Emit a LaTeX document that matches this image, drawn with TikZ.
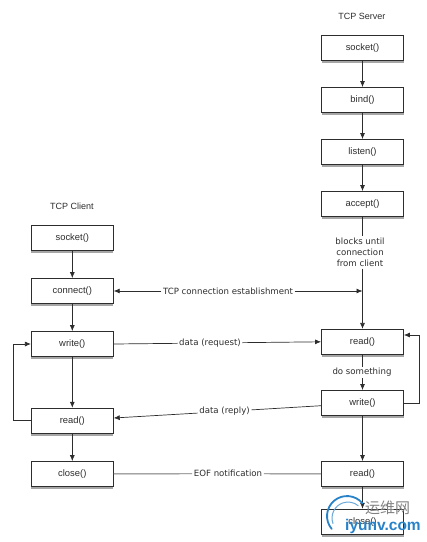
\documentclass[tikz,border=0pt]{standalone}
\usepackage{xcolor}
\usepackage{fontspec}
\setmainfont{Liberation Sans}
\newfontfamily\labelfont{DejaVu Sans}
\newfontfamily\cjkfont{Noto Sans CJK SC}
\usetikzlibrary{arrows.meta,positioning,calc,shadows}
\definecolor{inkgray}{RGB}{45,45,45}
\definecolor{markblue}{RGB}{40,130,200}
\tikzset{
  callbox/.style={draw=inkgray, line width=0.8pt, minimum width=82pt, minimum height=25pt,
    align=center, fill=white, text=inkgray, font=\fontsize{9.4}{10}\selectfont,
    double copy shadow={shadow xshift=0pt, shadow yshift=-1.3pt, draw=none, fill=black!35}},
  sidetitle/.style={text=inkgray, font=\fontsize{9}{10}\selectfont},
  msglabel/.style={fill=white, inner sep=1.5pt, text=inkgray, align=center,
    font=\labelfont\fontsize{8.6}{11}\selectfont},
  flow/.style={-{Latex[length=6pt,width=5pt]}, draw=inkgray, line width=0.7pt},
  plainflow/.style={draw=inkgray, line width=0.7pt}
}
\begin{document}
\begin{tikzpicture}[x=1pt,y=1pt,node distance=26.2pt]
\useasboundingbox (0,0) rectangle (427,-542);
% server column
\node[sidetitle] (servertitle) at (362,-16) {TCP Server};
\node[callbox] (ssocket) at (362.5,-48) {socket()};
\node[callbox, below=of ssocket] (sbind) {bind()};
\node[callbox, below=of sbind] (slisten) {listen()};
\node[callbox, below=of slisten] (saccept) {accept()};
\node[callbox, below=112pt of saccept] (sread) {read()};
\node[callbox, below=35.4pt of sread] (swrite) {write()};
\node[callbox, below=45.2pt of swrite] (sreadb) {read()};
\node[callbox, below=21.9pt of sreadb] (sclose) {close()};
% client column
\node[sidetitle] (clienttitle) at (72,-206) {TCP Client};
\node[callbox] (csocket) at (72.3,-237.6) {socket()};
\node[callbox, below=27.6pt of csocket] (cconnect) {connect()};
\node[callbox, below=27.2pt of cconnect] (cwrite) {write()};
\node[callbox, below=50.9pt of cwrite] (cread) {read()};
\node[callbox, below=27.5pt of cread] (cclose) {close()};
% helper points
\coordinate (tcpjoin) at (saccept.south |- cconnect);
\coordinate (cloopa) at ($(cread.west)+(-17.5,0)$);
\coordinate (cloopb) at ($(cwrite.west)+(-17.5,0)$);
\coordinate (sloopa) at ($(swrite.east)+(15.3,0)$);
\coordinate (sreadin) at ($(sread.east)+(0,6.8)$);
\coordinate (sloopb) at (sloopa |- sreadin);
\coordinate (replyout) at ($(swrite.west)+(0,-2.7)$);
\coordinate (replyin) at ($(cread.east)+(0,2.7)$);
% messages
\node[msglabel] (blocks) at (360,-252.5) {blocks until\\connection\\from client};
\node[msglabel] (tcplabel) at (228,-291) {TCP connection establishment};
\node[msglabel] (reqlabel) at (210,-343) {data (request)};
\node[msglabel] (somelabel) at (362,-372.5) {do something};
\node[msglabel] (replylabel) at (224.5,-411.5) {data (reply)};
\node[msglabel] (eoflabel) at (228,-473.7) {EOF notification};

\draw[flow] (ssocket) -- (sbind);
\draw[flow] (sbind) -- (slisten);
\draw[flow] (slisten) -- (saccept);
\draw[plainflow] (saccept.south) -- (saccept.south |- blocks.north);
\draw[flow] (saccept.south |- blocks.south) -- (sread.north);
\draw[plainflow] (sread.south) -- (sread.south |- somelabel.north);
\draw[flow] (sread.south |- somelabel.south) -- (swrite.north);
\draw[flow] (swrite) -- (sreadb);
\draw[flow] (sreadb) -- (sclose);
\draw[flow] (csocket) -- (cconnect);
\draw[flow] (cconnect) -- (cwrite);
\draw[flow] (cwrite) -- (cread);
\draw[flow] (cread) -- (cclose);
\draw[flow] (cread.west) -- (cloopa) -- (cloopb) -- (cwrite.west);
\draw[flow] (swrite.east) -- (sloopa) -- (sloopb) -- (sreadin);
\draw[flow] (tcplabel) -- (cconnect);
\draw[flow] (tcplabel) -- (tcpjoin);
\draw[plainflow] (cwrite.east) -- (reqlabel);
\draw[flow] (reqlabel) -- (sread.west);
\draw[plainflow] (replyout) -- (replylabel);
\draw[flow] (replylabel) -- (replyin);
\draw[plainflow, draw=black!55, line width=0.9pt] (cclose) -- (eoflabel);
\draw[plainflow, draw=black!55, line width=0.9pt] (eoflabel) -- (sreadb);
% site mark over the last box
\draw[markblue, line width=1.8pt, line cap=round] (331.7,-528.9) arc[start angle=220, end angle=40, radius=20];
\draw[markblue!70, line width=1pt, line cap=round] (333,-523.5) arc[start angle=200, end angle=50, radius=16];
\node[text=black!50, font=\cjkfont\fontsize{15}{16}\selectfont, inner sep=0pt] (marktext) at (387.5,-508) {运维网};
\node[text=markblue, font=\bfseries\fontsize{15.5}{16}\selectfont, inner sep=0pt] (markurl) at (383,-526) {iyunv.com};
\end{tikzpicture}
\end{document}
